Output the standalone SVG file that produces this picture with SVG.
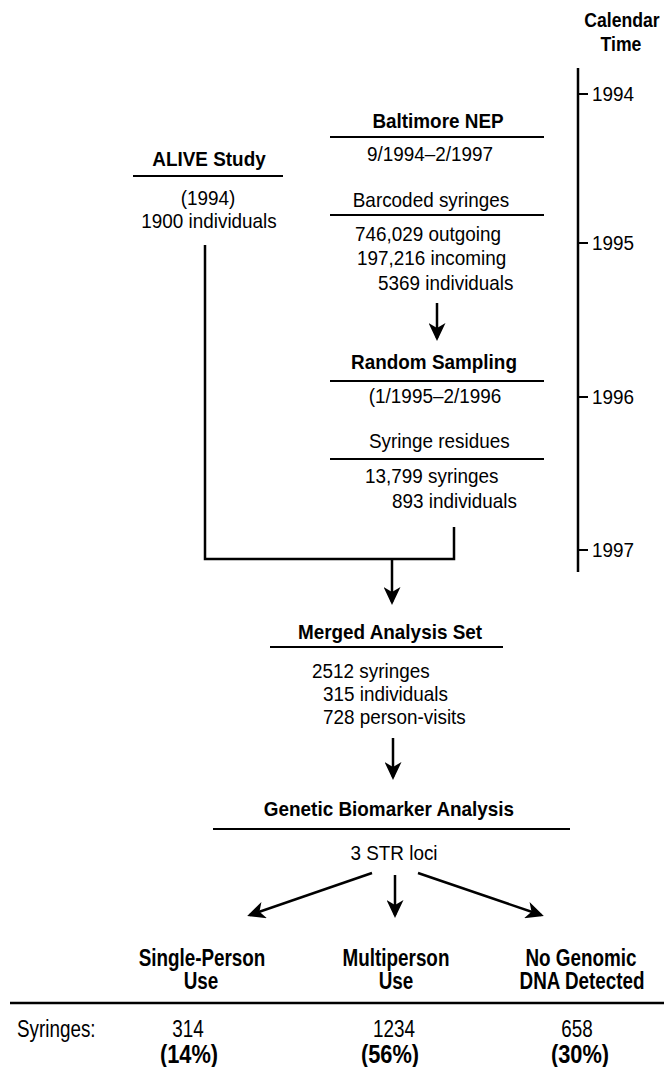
<svg xmlns="http://www.w3.org/2000/svg" width="664" height="1067" viewBox="0 0 664 1067">
<style>
.t{font-family:"Liberation Sans",Arial,Helvetica,sans-serif;font-size:21px;fill:#000}
.b{font-weight:bold}
.m{text-anchor:middle}
.lab{font-family:"Liberation Sans",Arial,Helvetica,sans-serif;font-size:23px;fill:#000;text-anchor:middle}
.pct{font-family:"Liberation Sans",Arial,Helvetica,sans-serif;font-size:26px;font-weight:bold;fill:#000;text-anchor:middle}
.cal{font-family:"Liberation Sans",Arial,Helvetica,sans-serif;font-size:21px;font-weight:bold;fill:#000;text-anchor:middle}
.yr{font-family:"Liberation Sans",Arial,Helvetica,sans-serif;font-size:21px;fill:#000}
.rule{stroke:#000;stroke-width:2;fill:none}
.conn{stroke:#000;stroke-width:2.5;fill:none}
</style>
<defs>
<marker id="ah" markerUnits="userSpaceOnUse" markerWidth="18" markerHeight="17" viewBox="0 0 18 17" refX="15" refY="8.5" orient="auto">
<path d="M0,0 L18,8.5 L0,17 L5,8.5 Z" fill="#000"/>
</marker>
</defs>
<rect width="664" height="1067" fill="#fff"/>

<g id="timeline">
<text class="cal" transform="translate(622,27) scale(0.84,1)">Calendar</text>
<text class="cal" transform="translate(621,51) scale(0.84,1)">Time</text>
<line class="conn" x1="578" y1="68" x2="578" y2="572"/>
<line class="rule" x1="578" y1="94" x2="588" y2="94"/>
<line class="rule" x1="578" y1="243" x2="588" y2="243"/>
<line class="rule" x1="578" y1="397" x2="588" y2="397"/>
<line class="rule" x1="578" y1="550" x2="588" y2="550"/>
<text class="yr" transform="translate(592,101) scale(0.9,1)">1994</text>
<text class="yr" transform="translate(592,250) scale(0.9,1)">1995</text>
<text class="yr" transform="translate(592,404) scale(0.9,1)">1996</text>
<text class="yr" transform="translate(592,557) scale(0.9,1)">1997</text>
</g>

<g id="alive">
<text class="t b m" transform="translate(209,166) scale(0.9,1)">ALIVE Study</text>
<line class="rule" x1="133" y1="176" x2="283" y2="176"/>
<text class="t m" transform="translate(208,205) scale(0.9,1)">(1994)</text>
<text class="t m" transform="translate(209,228) scale(0.9,1)">1900 individuals</text>
</g>

<g id="baltimore">
<text class="t b m" transform="translate(438,128) scale(0.9,1)">Baltimore NEP</text>
<line class="rule" x1="330" y1="137" x2="544" y2="137"/>
<text class="t m" transform="translate(430,161) scale(0.9,1)">9/1994–2/1997</text>
<text class="t m" transform="translate(431,207) scale(0.9,1)">Barcoded syringes</text>
<line class="rule" x1="330" y1="215" x2="544" y2="215"/>
<text class="t" transform="translate(355,241) scale(0.9,1)">746,029 outgoing</text>
<text class="t" transform="translate(357,265) scale(0.9,1)">197,216 incoming</text>
<text class="t" transform="translate(378,290) scale(0.9,1)">5369 individuals</text>
</g>

<g id="random">
<text class="t b m" transform="translate(434,369) scale(0.9,1)">Random Sampling</text>
<line class="rule" x1="330" y1="381" x2="544" y2="381"/>
<text class="t m" transform="translate(435,403) scale(0.9,1)">(1/1995–2/1996</text>
<text class="t" transform="translate(369,448) scale(0.9,1)">Syringe residues</text>
<line class="rule" x1="330" y1="459" x2="544" y2="459"/>
<text class="t" transform="translate(365,483) scale(0.9,1)">13,799 syringes</text>
<text class="t" transform="translate(392,508) scale(0.9,1)">893 individuals</text>
</g>

<g id="merged">
<text class="t b m" transform="translate(390,639) scale(0.9,1)">Merged Analysis Set</text>
<line class="rule" x1="270" y1="647" x2="503" y2="647"/>
<text class="t" transform="translate(312,678) scale(0.9,1)">2512 syringes</text>
<text class="t" transform="translate(323,701) scale(0.9,1)">315 individuals</text>
<text class="t" transform="translate(323,724) scale(0.9,1)">728 person-visits</text>
</g>

<g id="genetic">
<text class="t b m" transform="translate(389,816) scale(0.9,1)">Genetic Biomarker Analysis</text>
<line class="rule" x1="213" y1="829" x2="570" y2="829"/>
<text class="t m" transform="translate(394,860) scale(0.9,1)">3 STR loci</text>
</g>

<g id="connectors">
<polyline class="conn" points="205,245 205,559 454,559 454,527"/>
<line class="conn" x1="392" y1="559" x2="392" y2="602" marker-end="url(#ah)"/>
<line class="conn" x1="437" y1="303" x2="437" y2="338" marker-end="url(#ah)"/>
<line class="conn" x1="393" y1="738" x2="393" y2="777" marker-end="url(#ah)"/>
<line class="conn" x1="372" y1="873" x2="250" y2="915" marker-end="url(#ah)"/>
<line class="conn" x1="395" y1="875" x2="395" y2="915" marker-end="url(#ah)"/>
<line class="conn" x1="418" y1="873" x2="541" y2="915" marker-end="url(#ah)"/>
</g>

<g id="outcomes">
<text class="lab" font-weight="bold" transform="translate(202,966) scale(0.82,1)">Single-Person</text>
<text class="lab" font-weight="bold" transform="translate(201,989) scale(0.82,1)">Use</text>
<text class="lab" font-weight="bold" transform="translate(396,966) scale(0.82,1)">Multiperson</text>
<text class="lab" font-weight="bold" transform="translate(396,989) scale(0.82,1)">Use</text>
<text class="lab" font-weight="bold" transform="translate(581,966) scale(0.82,1)">No Genomic</text>
<text class="lab" font-weight="bold" transform="translate(582,989) scale(0.82,1)">DNA Detected</text>
<line class="conn" x1="10" y1="1003" x2="664" y2="1003"/>
<text class="lab" style="text-anchor:start" transform="translate(17,1037) scale(0.82,1)">Syringes:</text>
<text class="lab" transform="translate(188,1037) scale(0.82,1)">314</text>
<text class="lab" transform="translate(394,1037) scale(0.82,1)">1234</text>
<text class="lab" transform="translate(577,1037) scale(0.82,1)">658</text>
<text class="pct" transform="translate(189,1063) scale(0.84,1)">(14%)</text>
<text class="pct" transform="translate(390,1063) scale(0.84,1)">(56%)</text>
<text class="pct" transform="translate(580,1063) scale(0.84,1)">(30%)</text>
</g>
</svg>
